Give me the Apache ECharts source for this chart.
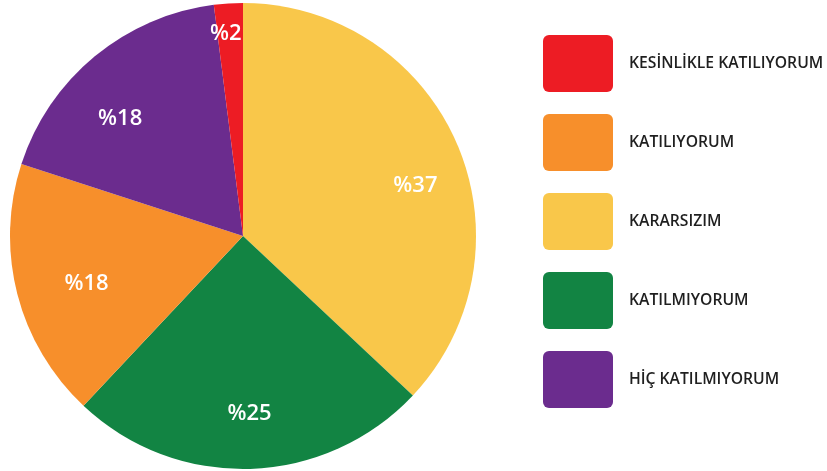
<!DOCTYPE html>
<html>
<head>
<meta charset="utf-8">
<script src="https://cdn.jsdelivr.net/npm/echarts@6/dist/echarts.min.js"></script>
<style>
  html, body { margin: 0; padding: 0; background: #ffffff; }
  #chart { width: 827px; height: 471px; }
</style>
</head>
<body>
<div id="chart"></div>
<script>
// Survey answers, in the order the slices run clockwise from 12 o'clock
const categories = ['KARARSIZIM', 'KATILMIYORUM', 'KATILIYORUM', 'HİÇ KATILMIYORUM', 'KESİNLİKLE KATILIYORUM'];
const values = [37, 25, 18, 18, 2];
const colors = ['#F9C74A', '#128443', '#F78F2B', '#6B2C8E', '#ED1C24'];
// Order of the entries in the key on the right
const legendOrder = ['KESİNLİKLE KATILIYORUM', 'KATILIYORUM', 'KARARSIZIM', 'KATILMIYORUM', 'HİÇ KATILMIYORUM'];
// Small nudges for the percentage labels
const labelOffsets = [[10, 20], [1, 1], [15, 4], [-10, 19], [-6, -26]];

const chart = echarts.init(document.getElementById('chart'), null, { renderer: 'canvas' });

const center = [243, 236];
const radius = 233;

const sliceData = categories.map((name, i) => ({
  name: name,
  value: values[i],
  itemStyle: { color: colors[i] }
}));

const labelData = categories.map((name, i) => ({
  name: name,
  value: values[i],
  label: { offset: labelOffsets[i] }
}));

// rounded rectangle swatch for the key
const swatch = 'path://M6,0 H64 A6,6 0 0 1 70,6 V51 A6,6 0 0 1 64,57 H6 A6,6 0 0 1 0,51 V6 A6,6 0 0 1 6,0 Z';

chart.setOption({
  animation: false,
  backgroundColor: '#ffffff',
  legend: {
    orient: 'vertical',
    left: 543,
    top: 35,
    padding: 0,
    itemWidth: 70,
    itemHeight: 57,
    itemGap: 22,
    icon: swatch,
    selectedMode: false,
    data: legendOrder,
    textStyle: {
      fontFamily: 'Open Sans',
      fontWeight: 600,
      fontSize: 15.7,
      color: '#1f1f1f',
      padding: [0, 0, 0, 11]
    }
  },
  series: [
    {
      type: 'pie',
      center: center,
      radius: radius,
      startAngle: 90,
      clockwise: true,
      avoidLabelOverlap: false,
      label: { show: false },
      labelLine: { show: false },
      emphasis: { disabled: true },
      itemStyle: { borderWidth: 0 },
      data: sliceData
    },
    {
      // transparent ring that carries the percentage labels further out
      type: 'pie',
      center: center,
      radius: [115, radius],
      startAngle: 90,
      clockwise: true,
      silent: true,
      avoidLabelOverlap: false,
      itemStyle: { color: 'rgba(0,0,0,0)', borderWidth: 0 },
      emphasis: { disabled: true },
      labelLine: { show: false },
      label: {
        show: true,
        position: 'inside',
        formatter: p => '%' + p.value,
        fontFamily: 'Open Sans',
        fontWeight: 600,
        fontSize: 22,
        color: '#ffffff'
      },
      data: labelData
    }
  ]
});
</script>
</body>
</html>
